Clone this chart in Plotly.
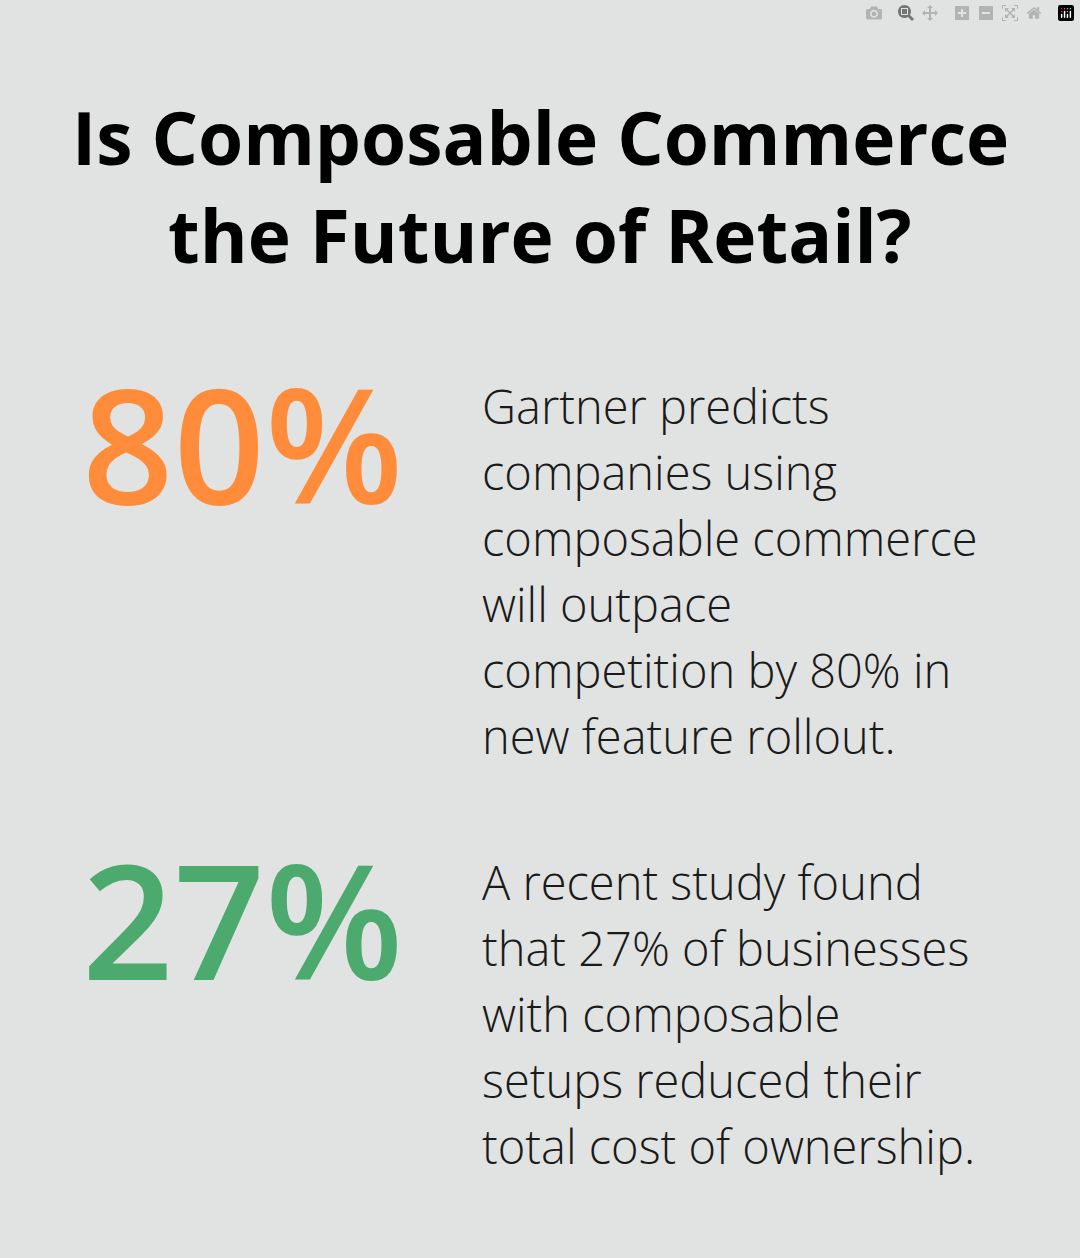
import plotly.graph_objects as go

W, H = 1080, 1258
title_lines = ["Is Composable Commerce", "the Future of Retail?"]
stats = ["80%", "27%"]
stat_colors = ["#FF8C3A", "#4CAA6E"]
desc = [
    ["Gartner predicts", "companies using", "composable commerce", "will outpace",
     "competition by 80% in", "new feature rollout."],
    ["A recent study found", "that 27% of businesses", "with composable",
     "setups reduced their", "total cost of ownership."],
]
stat_y = [442, 918]
desc_y0 = [406, 882]

fig = go.Figure()
ann = []
def px(x, y, text, size, color="#111", weight=400, xanchor="left"):
    ann.append(dict(x=x / W, y=1 - y / H, xref="paper", yref="paper", text=text,
                    showarrow=False, xanchor=xanchor, yanchor="middle",
                    font=dict(family="Open Sans", size=size, color=color, weight=weight)))

for i, t in enumerate(title_lines):
    px(540, 137 + 97 * i, t, 73, "#000", 700, "center")
for i in range(2):
    px(80, stat_y[i], stats[i], 160, stat_colors[i], 600)
    for j, line in enumerate(desc[i]):
        px(480, desc_y0[i] + 66 * j, line, 47, "#1a1a1a", 300)

fig.update_layout(width=W, height=H, margin=dict(l=0, r=0, t=0, b=0),
                  paper_bgcolor="#E1E3E2", plot_bgcolor="#E1E3E2",
                  xaxis=dict(visible=False), yaxis=dict(visible=False),
                  annotations=ann)
fig.write_html("out.html",
               post_script="document.body.style.margin='0';document.body.style.background='#E1E3E2';")
